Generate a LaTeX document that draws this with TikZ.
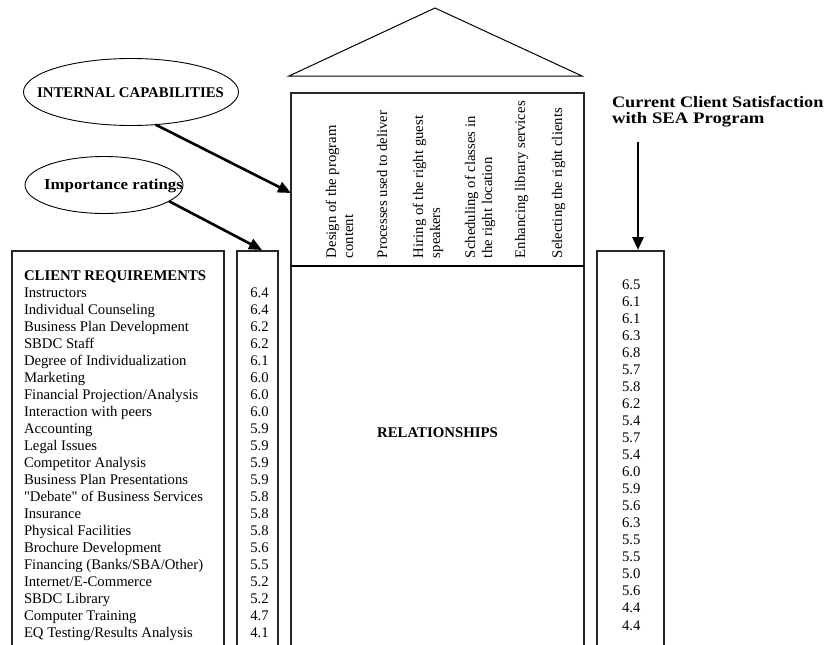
\documentclass[tikz,border=0pt]{standalone}
\usepackage{fontspec}
\setmainfont{Liberation Serif}[Ligatures=TeXOff]
\usepackage{graphicx}
\usetikzlibrary{arrows.meta,shapes.geometric,calc}
\begin{document}
\begin{tikzpicture}[x=1pt,y=-1pt,
  every node/.style={inner sep=0pt, outer sep=0pt},
  txt/.style={font=\fontsize{14.7}{17}\selectfont, anchor=base west},
  boldtxt/.style={font=\fontsize{14.8}{17}\selectfont\bfseries},
  box/.style={draw=black!85, line width=1.2pt, anchor=north west},
  oval/.style={draw, ellipse, line width=0.9pt},
  bigarrow/.style={line width=2.6pt, -{Triangle[length=13pt,width=11pt]}},
  collabel/.style={txt, rotate=90}]
\useasboundingbox (0,0) rectangle (825,645);
\clip (0,0) rectangle (825,645);

% roof
\coordinate (rl) at (289,76);
\coordinate (rt) at (435,8);
\coordinate (rr) at (582,76);
\draw[line width=1pt] (rl) -- (rt) -- (rr) -- cycle;

% main matrix box
\node[box, line width=1.4pt, minimum width=293pt, minimum height=570pt] (main) at (291,93) {};
\coordinate (dl) at (291,266);
\coordinate (dr) at (584,266);
\draw[line width=2.6pt] (dl) -- (dr);

% column labels
\node[collabel] (c1a) at (336,258) {Design of the program};
\node[collabel] (c1b) at (353,258) {content};
\node[collabel] (c2)  at (387,258) {Processes used to deliver};
\node[collabel] (c3a) at (423,258) {Hiring of the right guest};
\node[collabel] (c3b) at (440,258) {speakers};
\node[collabel] (c4a) at (475,258) {Scheduling of classes in};
\node[collabel] (c4b) at (492,258) {the right location};
\node[collabel] (c5)  at (525,258) {Enhancing library services};
\node[collabel] (c6)  at (562,258) {Selecting the right clients};

\node[boldtxt, anchor=base] (rel) at (437.5,437) {RELATIONSHIPS};

% side boxes
\node[box, minimum width=212pt, minimum height=420pt] (req) at (12,251) {};
\node[box, minimum width=41pt, minimum height=420pt] (rat) at (237,251) {};
\node[box, minimum width=67pt, minimum height=420pt] (sat) at (597,251) {};

\node[boldtxt, anchor=base west] (crh) at (24,280) {CLIENT REQUIREMENTS};
\foreach \t [count=\i from 0] in {Instructors, Individual Counseling, Business Plan Development, SBDC Staff, Degree of Individualization, Marketing, Financial Projection/Analysis, Interaction with peers, Accounting, Legal Issues, Competitor Analysis, Business Plan Presentations, "Debate" of Business Services, Insurance, Physical Facilities, Brochure Development, Financing (Banks/SBA/Other), Internet/E-Commerce, SBDC Library, Computer Training, EQ Testing/Results Analysis}
  \node[txt] (rq\i) at (24,{297+17*\i}) {\t};

\foreach \v [count=\i from 0] in {6.4,6.4,6.2,6.2,6.1,6.0,6.0,6.0,5.9,5.9,5.9,5.9,5.8,5.8,5.8,5.6,5.5,5.2,5.2,4.7,4.1}
  \node[txt, anchor=base] (rv\i) at (259.5,{297+17*\i}) {\v};

\foreach \v [count=\i from 0] in {6.5,6.1,6.1,6.3,6.8,5.7,5.8,6.2,5.4,5.7,5.4,6.0,5.9,5.6,6.3,5.5,5.5,5.0,5.6,4.4,4.4}
  \node[txt] (sv\i) at (622,{289+17.05*\i}) {\v};

% ellipses
\node[oval, minimum width=215pt, minimum height=67pt] (ic) at (131,92) {};
\node[boldtxt, anchor=base] (ict) at (130.5,97) {INTERNAL CAPABILITIES};
\node[oval, minimum width=158pt, minimum height=57pt] (imp) at (104,185) {};
\node[anchor=base] (impt) at (113.5,189) {\fontsize{15}{17}\selectfont\bfseries\scalebox{1.12}[1]{Importance ratings}};

% satisfaction heading
\node[anchor=base west] (cs1) at (612,107) {\fontsize{16}{18}\selectfont\bfseries\scalebox{1.14}[1]{Current Client Satisfaction}};
\node[anchor=base west] (cs2) at (612,123) {\fontsize{16}{18}\selectfont\bfseries\scalebox{1.17}[1]{with SEA Program}};

% arrows
\draw[bigarrow] (ic.-53) -- ($(main.north west)+(0,100)$);
\draw[bigarrow] (imp.-14) -- ($(rat.north)+(4.5,-1)$);
\coordinate (csA) at (638,142);
\draw[bigarrow] (csA) -- ($(sat.north)+(7.5,-1)$);
\end{tikzpicture}
\end{document}
